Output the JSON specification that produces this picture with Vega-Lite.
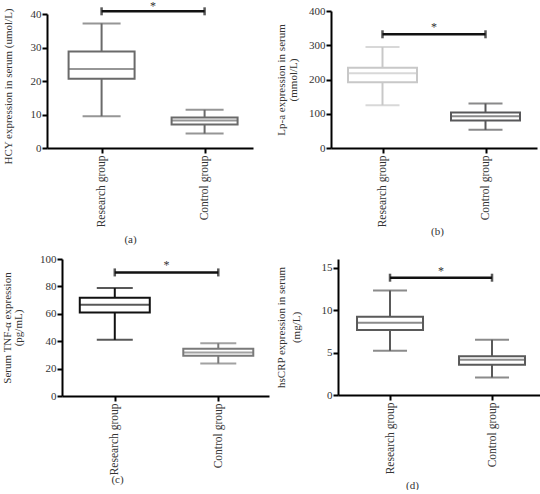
{
  "$schema": "https://vega.github.io/schema/vega-lite/v6.json",
  "padding": {"left": 0, "top": 0, "right": 0, "bottom": 0},
  "config": {
    "font": "Liberation Serif",
    "view": {"stroke": null},
    "axis": {
      "domainColor": "#000", "domainWidth": 2, "tickColor": "#000", "tickWidth": 2, "tickSize": 5,
      "labelFont": "Liberation Serif", "labelFontSize": 11, "labelColor": "#333", "labelPadding": 1, "labelOverlap": false,
      "titleFont": "Liberation Serif", "titleFontSize": 11, "titleFontWeight": "normal", "titleColor": "#333",
      "grid": false
    },
    "axisX": {"labelFontSize": 11.5, "labelPadding": 2}
  },
  "columns": 2,
  "align": {"row": "each", "column": "none"},
  "spacing": {"row": 9, "column": 5},
  "resolve": {"scale": {"color": "independent", "stroke": "independent"}},
  "concat": [
    {
      "width": 206, "height": 137,
      "data": {"values": [
        {"group": "Research group", "min": 9.5, "q1": 20.7, "median": 23.6, "q3": 28.8, "max": 37.2},
        {"group": "Control group", "min": 4.3, "q1": 7.0, "median": 8.2, "q3": 9.1, "max": 11.4}
      ]},
      "encoding": {
        "x": {"field": "group", "type": "nominal", "sort": null,
          "scale": {"type": "point", "domain": ["Research group", "vs", "Control group"], "padding": 1.06, "align": 0.53},
          "axis": {"values": ["Research group", "Control group"], "labelAngle": -90, "title": "(a)", "titleX": 83, "titleY": 91, "titleBaseline": "middle", "titleAlign": "center"}}
      },
      "layer": [
        {"mark": {"type": "rule", "color": "#6a6a6a", "strokeWidth": 2},
         "encoding": {"y": {"field": "min", "type": "quantitative", "scale": {"domain": [0, 40], "range": [137, 3]},
           "axis": {"values": [0, 10, 20, 30, 40], "labelOverlap": false, "title": "HCY expression in serum (umol/L)", "titleX": -39, "titleY": 75, "titleBaseline": "middle"}},
           "y2": {"field": "max"}}},
        {"mark": {"type": "bar", "fill": "white", "stroke": "#6a6a6a", "strokeWidth": 2, "size": 66},
         "encoding": {"y": {"field": "q1", "type": "quantitative", "axis": {"values": [0, 10, 20, 30, 40], "labelOverlap": false, "title": "HCY expression in serum (umol/L)", "titleX": -39, "titleY": 75, "titleBaseline": "middle"}}, "y2": {"field": "q3"}}},
        {"mark": {"type": "tick", "color": "#6a6a6a", "thickness": 2, "size": 66},
         "encoding": {"y": {"field": "median", "type": "quantitative", "axis": {"values": [0, 10, 20, 30, 40], "labelOverlap": false, "title": "HCY expression in serum (umol/L)", "titleX": -39, "titleY": 75, "titleBaseline": "middle"}}}},
        {"mark": {"type": "tick", "color": "#6a6a6a", "thickness": 2, "size": 38},
         "encoding": {"y": {"field": "min", "type": "quantitative", "axis": {"values": [0, 10, 20, 30, 40], "labelOverlap": false, "title": "HCY expression in serum (umol/L)", "titleX": -39, "titleY": 75, "titleBaseline": "middle"}}}},
        {"mark": {"type": "tick", "color": "#6a6a6a", "thickness": 2, "size": 38},
         "encoding": {"y": {"field": "max", "type": "quantitative", "axis": {"values": [0, 10, 20, 30, 40], "labelOverlap": false, "title": "HCY expression in serum (umol/L)", "titleX": -39, "titleY": 75, "titleBaseline": "middle"}}}},
        {"data": {"values": [{"group": "Research group", "group2": "Control group", "y": 40.8}]},
         "mark": {"type": "rule", "color": "#111", "strokeWidth": 2.5},
         "encoding": {"x2": {"field": "group2"}, "y": {"field": "y", "type": "quantitative", "axis": {"values": [0, 10, 20, 30, 40], "labelOverlap": false, "title": "HCY expression in serum (umol/L)", "titleX": -39, "titleY": 75, "titleBaseline": "middle"}}}},
        {"data": {"values": [{"group": "Research group", "y": 40.8}, {"group": "Control group", "y": 40.8}]},
         "mark": {"type": "tick", "orient": "vertical", "color": "#111", "thickness": 2.5, "size": 8},
         "encoding": {"y": {"field": "y", "type": "quantitative", "axis": {"values": [0, 10, 20, 30, 40], "labelOverlap": false, "title": "HCY expression in serum (umol/L)", "titleX": -39, "titleY": 75, "titleBaseline": "middle"}}}},
        {"data": {"values": [{"group": "vs", "y": 40.8, "label": "*"}]},
         "mark": {"type": "text", "fontSize": 12, "fill": "#333", "dy": -5},
         "encoding": {"y": {"field": "y", "type": "quantitative", "axis": {"values": [0, 10, 20, 30, 40], "labelOverlap": false, "title": "HCY expression in serum (umol/L)", "titleX": -39, "titleY": 75, "titleBaseline": "middle"}}, "text": {"field": "label"}}}
      ]
    },
    {
      "width": 206, "height": 137,
      "data": {"values": [
        {"group": "Research group", "min": 125, "q1": 192, "median": 218, "q3": 234, "max": 295},
        {"group": "Control group", "min": 53, "q1": 80, "median": 93, "q3": 104, "max": 130}
      ]},
      "encoding": {
        "x": {"field": "group", "type": "nominal", "sort": null,
          "scale": {"type": "point", "domain": ["Research group", "vs", "Control group"], "padding": 1.02, "align": 0.5},
          "axis": {"values": ["Research group", "Control group"], "labelAngle": -90, "title": "(b)", "titleX": 106, "titleY": 83, "titleBaseline": "middle", "titleAlign": "center"}}
      },
      "layer": [
        {"mark": {"type": "rule", "strokeWidth": 2},
         "encoding": {"y": {"field": "min", "type": "quantitative", "scale": {"domain": [0, 400]},
           "axis": {"values": [0, 100, 200, 300, 400], "labelOverlap": false, "title": ["Lp-a expression in serum", "(mmol/L)"], "titleX": -50, "titleBaseline": "middle", "titleLineHeight": 12}},
           "y2": {"field": "max"},
           "color": {"field": "group", "type": "nominal", "scale": {"domain": ["Research group", "Control group"], "range": ["#c8c8c8", "#58585a"]}, "legend": null}}},
        {"mark": {"type": "bar", "fill": "white", "strokeWidth": 2, "size": 69},
         "encoding": {"y": {"field": "q1", "type": "quantitative", "axis": {"values": [0, 100, 200, 300, 400], "labelOverlap": false, "title": ["Lp-a expression in serum", "(mmol/L)"], "titleX": -50, "titleBaseline": "middle", "titleLineHeight": 12}}, "y2": {"field": "q3"},
           "stroke": {"field": "group", "type": "nominal", "scale": {"domain": ["Research group", "Control group"], "range": ["#c8c8c8", "#58585a"]}, "legend": null}}},
        {"mark": {"type": "tick", "thickness": 2, "size": 69},
         "encoding": {"y": {"field": "median", "type": "quantitative", "axis": {"values": [0, 100, 200, 300, 400], "labelOverlap": false, "title": ["Lp-a expression in serum", "(mmol/L)"], "titleX": -50, "titleBaseline": "middle", "titleLineHeight": 12}},
           "color": {"field": "group", "type": "nominal", "legend": null}}},
        {"mark": {"type": "tick", "thickness": 2, "size": 34},
         "encoding": {"y": {"field": "min", "type": "quantitative", "axis": {"values": [0, 100, 200, 300, 400], "labelOverlap": false, "title": ["Lp-a expression in serum", "(mmol/L)"], "titleX": -50, "titleBaseline": "middle", "titleLineHeight": 12}},
           "color": {"field": "group", "type": "nominal", "legend": null}}},
        {"mark": {"type": "tick", "thickness": 2, "size": 34},
         "encoding": {"y": {"field": "max", "type": "quantitative", "axis": {"values": [0, 100, 200, 300, 400], "labelOverlap": false, "title": ["Lp-a expression in serum", "(mmol/L)"], "titleX": -50, "titleBaseline": "middle", "titleLineHeight": 12}},
           "color": {"field": "group", "type": "nominal", "legend": null}}},
        {"data": {"values": [{"group": "Research group", "group2": "Control group", "y": 332}]},
         "mark": {"type": "rule", "color": "#111", "strokeWidth": 2.5},
         "encoding": {"x2": {"field": "group2"}, "y": {"field": "y", "type": "quantitative", "axis": {"values": [0, 100, 200, 300, 400], "labelOverlap": false, "title": ["Lp-a expression in serum", "(mmol/L)"], "titleX": -50, "titleBaseline": "middle", "titleLineHeight": 12}}}},
        {"data": {"values": [{"group": "Research group", "y": 332}, {"group": "Control group", "y": 332}]},
         "mark": {"type": "tick", "orient": "vertical", "color": "#111", "thickness": 2.5, "size": 8},
         "encoding": {"y": {"field": "y", "type": "quantitative", "axis": {"values": [0, 100, 200, 300, 400], "labelOverlap": false, "title": ["Lp-a expression in serum", "(mmol/L)"], "titleX": -50, "titleBaseline": "middle", "titleLineHeight": 12}}}},
        {"data": {"values": [{"group": "vs", "y": 332, "label": "*"}]},
         "mark": {"type": "text", "fontSize": 12, "fill": "#333", "dy": -7},
         "encoding": {"y": {"field": "y", "type": "quantitative", "axis": {"values": [0, 100, 200, 300, 400], "labelOverlap": false, "title": ["Lp-a expression in serum", "(mmol/L)"], "titleX": -50, "titleBaseline": "middle", "titleLineHeight": 12}}, "text": {"field": "label"}}}
      ]
    },
    {
      "width": 222, "height": 137,
      "data": {"values": [
        {"group": "Research group", "min": 41, "q1": 61, "median": 66.6, "q3": 71.7, "max": 78.8},
        {"group": "Control group", "min": 23.7, "q1": 29.3, "median": 31.7, "q3": 34.4, "max": 38.5}
      ]},
      "encoding": {
        "x": {"field": "group", "type": "nominal", "sort": null,
          "scale": {"type": "point", "domain": ["Research group", "vs", "Control group"], "range": [15, 222], "padding": 1.05, "align": 0.51},
          "axis": {"values": ["Research group", "Control group"], "labelAngle": -90, "title": "(c)", "titleX": 70, "titleY": 83, "titleBaseline": "middle", "titleAlign": "center"}}
      },
      "layer": [
        {"mark": {"type": "rule", "strokeWidth": 2},
         "encoding": {"y": {"field": "min", "type": "quantitative", "scale": {"domain": [0, 100]},
           "axis": {"offset": -15, "values": [0, 20, 40, 60, 80, 100], "labelOverlap": false, "title": ["Serum TNF-α expression", "(pg/mL)"], "titleX": -55, "titleBaseline": "middle", "titleLineHeight": 11}},
           "y2": {"field": "max"},
           "color": {"field": "group", "type": "nominal", "scale": {"domain": ["Research group", "Control group"], "range": ["#111111", "#7a7a7a"]}, "legend": null}}},
        {"mark": {"type": "bar", "fill": "white", "strokeWidth": 2, "size": 70},
         "encoding": {"y": {"field": "q1", "type": "quantitative", "axis": {"offset": -15, "values": [0, 20, 40, 60, 80, 100], "labelOverlap": false, "title": ["Serum TNF-α expression", "(pg/mL)"], "titleX": -55, "titleBaseline": "middle", "titleLineHeight": 11}}, "y2": {"field": "q3"},
           "stroke": {"field": "group", "type": "nominal", "scale": {"domain": ["Research group", "Control group"], "range": ["#111111", "#7a7a7a"]}, "legend": null}}},
        {"mark": {"type": "tick", "thickness": 2, "size": 70},
         "encoding": {"y": {"field": "median", "type": "quantitative", "axis": {"offset": -15, "values": [0, 20, 40, 60, 80, 100], "labelOverlap": false, "title": ["Serum TNF-α expression", "(pg/mL)"], "titleX": -55, "titleBaseline": "middle", "titleLineHeight": 11}},
           "color": {"field": "group", "type": "nominal", "legend": null}}},
        {"mark": {"type": "tick", "thickness": 2, "size": 36},
         "encoding": {"y": {"field": "min", "type": "quantitative", "axis": {"offset": -15, "values": [0, 20, 40, 60, 80, 100], "labelOverlap": false, "title": ["Serum TNF-α expression", "(pg/mL)"], "titleX": -55, "titleBaseline": "middle", "titleLineHeight": 11}},
           "color": {"field": "group", "type": "nominal", "legend": null}}},
        {"mark": {"type": "tick", "thickness": 2, "size": 36},
         "encoding": {"y": {"field": "max", "type": "quantitative", "axis": {"offset": -15, "values": [0, 20, 40, 60, 80, 100], "labelOverlap": false, "title": ["Serum TNF-α expression", "(pg/mL)"], "titleX": -55, "titleBaseline": "middle", "titleLineHeight": 11}},
           "color": {"field": "group", "type": "nominal", "legend": null}}},
        {"data": {"values": [{"group": "Research group", "group2": "Control group", "y": 90.2}]},
         "mark": {"type": "rule", "color": "#111", "strokeWidth": 2.5},
         "encoding": {"x2": {"field": "group2"}, "y": {"field": "y", "type": "quantitative", "axis": {"offset": -15, "values": [0, 20, 40, 60, 80, 100], "labelOverlap": false, "title": ["Serum TNF-α expression", "(pg/mL)"], "titleX": -55, "titleBaseline": "middle", "titleLineHeight": 11}}}},
        {"data": {"values": [{"group": "Research group", "y": 90.2}, {"group": "Control group", "y": 90.2}]},
         "mark": {"type": "tick", "orient": "vertical", "color": "#111", "thickness": 2.5, "size": 8},
         "encoding": {"y": {"field": "y", "type": "quantitative", "axis": {"offset": -15, "values": [0, 20, 40, 60, 80, 100], "labelOverlap": false, "title": ["Serum TNF-α expression", "(pg/mL)"], "titleX": -55, "titleBaseline": "middle", "titleLineHeight": 11}}}},
        {"data": {"values": [{"group": "vs", "y": 90.2, "label": "*"}]},
         "mark": {"type": "text", "fontSize": 12, "fill": "#333", "dy": -7},
         "encoding": {"y": {"field": "y", "type": "quantitative", "axis": {"offset": -15, "values": [0, 20, 40, 60, 80, 100], "labelOverlap": false, "title": ["Serum TNF-α expression", "(pg/mL)"], "titleX": -55, "titleBaseline": "middle", "titleLineHeight": 11}}, "text": {"field": "label"}}}
      ]
    },
    {
      "width": 204, "height": 136,
      "data": {"values": [
        {"group": "Research group", "min": 5.2, "q1": 7.65, "median": 8.5, "q3": 9.2, "max": 12.3},
        {"group": "Control group", "min": 2.06, "q1": 3.57, "median": 4.15, "q3": 4.56, "max": 6.5}
      ]},
      "encoding": {
        "x": {"field": "group", "type": "nominal", "sort": null,
          "scale": {"type": "point", "domain": ["Research group", "vs", "Control group"], "padding": 1.02, "align": 0.51},
          "axis": {"values": ["Research group", "Control group"], "labelAngle": -90, "title": "(d)", "titleX": 74, "titleY": 90, "titleBaseline": "middle", "titleAlign": "center"}}
      },
      "layer": [
        {"mark": {"type": "rule", "color": "#5a5a5a", "strokeWidth": 2},
         "encoding": {"y": {"field": "min", "type": "quantitative", "scale": {"domain": [0, 15]},
           "axis": {"values": [0, 5, 10, 15], "labelOverlap": false, "title": ["hsCRP expression in serum", "(mg/L)"], "titleX": -57, "titleBaseline": "middle", "titleLineHeight": 15}},
           "y2": {"field": "max"}}},
        {"mark": {"type": "bar", "fill": "white", "stroke": "#5a5a5a", "strokeWidth": 2, "size": 66},
         "encoding": {"y": {"field": "q1", "type": "quantitative", "axis": {"values": [0, 5, 10, 15], "labelOverlap": false, "title": ["hsCRP expression in serum", "(mg/L)"], "titleX": -57, "titleBaseline": "middle", "titleLineHeight": 15}}, "y2": {"field": "q3"}}},
        {"mark": {"type": "tick", "color": "#5a5a5a", "thickness": 2, "size": 66},
         "encoding": {"y": {"field": "median", "type": "quantitative", "axis": {"values": [0, 5, 10, 15], "labelOverlap": false, "title": ["hsCRP expression in serum", "(mg/L)"], "titleX": -57, "titleBaseline": "middle", "titleLineHeight": 15}}}},
        {"mark": {"type": "tick", "color": "#5a5a5a", "thickness": 2, "size": 34},
         "encoding": {"y": {"field": "min", "type": "quantitative", "axis": {"values": [0, 5, 10, 15], "labelOverlap": false, "title": ["hsCRP expression in serum", "(mg/L)"], "titleX": -57, "titleBaseline": "middle", "titleLineHeight": 15}}}},
        {"mark": {"type": "tick", "color": "#5a5a5a", "thickness": 2, "size": 34},
         "encoding": {"y": {"field": "max", "type": "quantitative", "axis": {"values": [0, 5, 10, 15], "labelOverlap": false, "title": ["hsCRP expression in serum", "(mg/L)"], "titleX": -57, "titleBaseline": "middle", "titleLineHeight": 15}}}},
        {"data": {"values": [{"group": "Research group", "group2": "Control group", "y": 13.8}]},
         "mark": {"type": "rule", "color": "#111", "strokeWidth": 2.5},
         "encoding": {"x2": {"field": "group2"}, "y": {"field": "y", "type": "quantitative", "axis": {"values": [0, 5, 10, 15], "labelOverlap": false, "title": ["hsCRP expression in serum", "(mg/L)"], "titleX": -57, "titleBaseline": "middle", "titleLineHeight": 15}}}},
        {"data": {"values": [{"group": "Research group", "y": 13.8}, {"group": "Control group", "y": 13.8}]},
         "mark": {"type": "tick", "orient": "vertical", "color": "#111", "thickness": 2.5, "size": 8},
         "encoding": {"y": {"field": "y", "type": "quantitative", "axis": {"values": [0, 5, 10, 15], "labelOverlap": false, "title": ["hsCRP expression in serum", "(mg/L)"], "titleX": -57, "titleBaseline": "middle", "titleLineHeight": 15}}}},
        {"data": {"values": [{"group": "vs", "y": 13.8, "label": "*"}]},
         "mark": {"type": "text", "fontSize": 12, "fill": "#333", "dy": -7},
         "encoding": {"y": {"field": "y", "type": "quantitative", "axis": {"values": [0, 5, 10, 15], "labelOverlap": false, "title": ["hsCRP expression in serum", "(mg/L)"], "titleX": -57, "titleBaseline": "middle", "titleLineHeight": 15}}, "text": {"field": "label"}}}
      ]
    }
  ]
}
